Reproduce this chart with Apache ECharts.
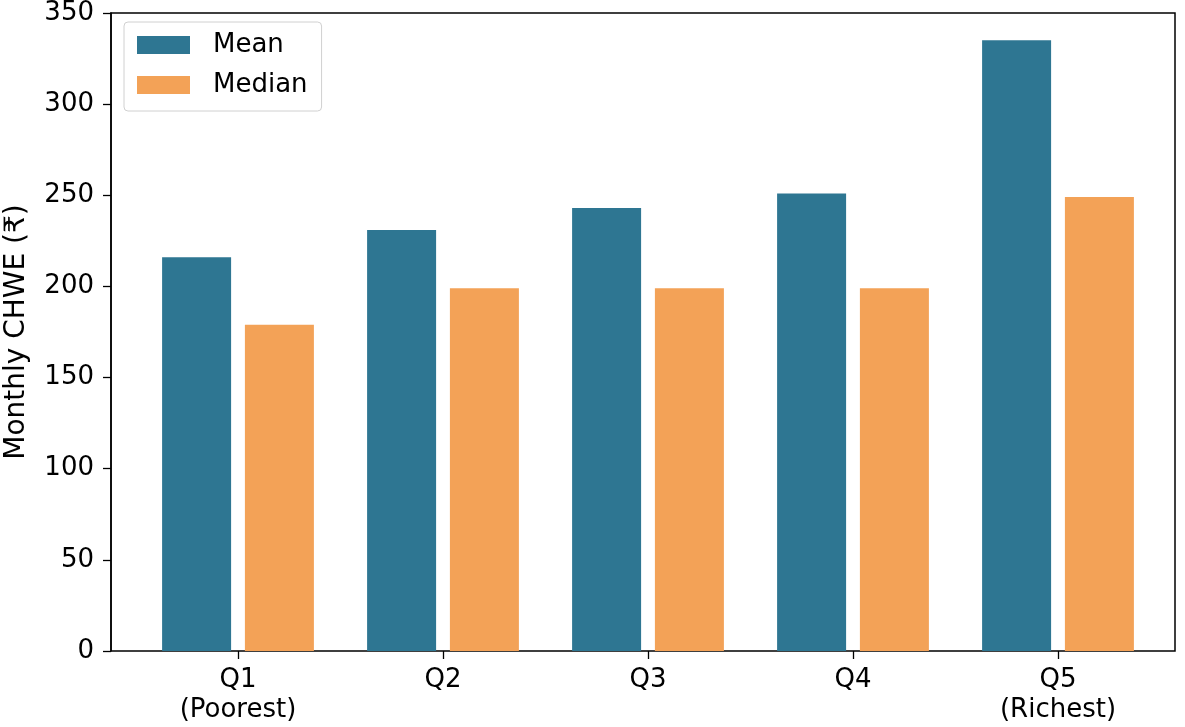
<!DOCTYPE html>
<html>
<head>
<meta charset="utf-8">
<script src="https://cdn.jsdelivr.net/npm/echarts@6/dist/echarts.min.js"></script>
<style>
  html, body { margin: 0; padding: 0; background: #fff; }
  #container { width: 1185px; height: 727px; }
</style>
</head>
<body>
<div id="container"></div>
<script>
var quintiles = ["Q1\n(Poorest)", "Q2", "Q3", "Q4", "Q5\n(Richest)"];
var meanValues = [216, 231, 243, 251, 335];
var medianValues = [179, 199, 199, 199, 249];
var yTicks = { min: 0, max: 350, step: 50 };

var dom = document.getElementById("container");
var chart = echarts.init(dom);

var font = "DejaVu Sans";

var option = {
    animation: false,
    textStyle: { fontFamily: font },
    grid: [
        // bars
        { left: 135.5, right: 24.5, top: 13, bottom: 76, outerBoundsMode: "none", containLabel: false },
        // frame + y axis
        { left: 111, right: 10, top: 13, bottom: 76, outerBoundsMode: "none", containLabel: false,
          show: true, borderColor: "#000", borderWidth: 1.5, backgroundColor: "transparent" }
    ],
    legend: {
        orient: "vertical",
        left: 124,
        top: 22,
        padding: [10, 14, 13, 13],
        itemWidth: 53,
        itemHeight: 18,
        itemGap: 14,
        icon: "rect",
        borderColor: "#d0d0d0",
        borderWidth: 1,
        borderRadius: 4,
        backgroundColor: "#fff",
        textStyle: { fontSize: 26, lineHeight: 26, color: "#000", fontFamily: font, padding: [0, 0, 0, 18] },
        data: ["Mean", "Median"]
    },
    xAxis: [
        {
            type: "category",
            gridIndex: 0,
            data: quintiles,
            axisLine: { show: false },
            axisTick: { show: true, alignWithLabel: true, length: 8, lineStyle: { color: "#000", width: 1.3 } },
            axisLabel: { fontSize: 26, color: "#000", margin: 14, lineHeight: 30, fontFamily: font }
        },
        {
            type: "value",
            gridIndex: 1,
            min: 0,
            max: 1,
            show: false
        }
    ],
    yAxis: [
        {
            type: "value",
            gridIndex: 0,
            min: yTicks.min,
            max: yTicks.max,
            show: false
        },
        {
            type: "value",
            gridIndex: 1,
            min: yTicks.min,
            max: yTicks.max,
            interval: yTicks.step,
            name: "Monthly CHWE (₹)",
            nameLocation: "middle",
            nameGap: 80,
            nameTextStyle: { fontSize: 28, color: "#000", fontFamily: font },
            axisLine: { show: true, lineStyle: { color: "#000", width: 1.5 } },
            axisTick: { show: true, length: 8, lineStyle: { color: "#000", width: 1.3 } },
            axisLabel: { fontSize: 26, color: "#000", margin: 17, fontFamily: font },
            splitLine: { show: false }
        }
    ],
    series: [
        {
            name: "Mean",
            type: "bar",
            xAxisIndex: 0,
            yAxisIndex: 0,
            data: meanValues,
            barWidth: 69,
            barGap: "20%",
            itemStyle: { color: "#2e7692" }
        },
        {
            name: "Median",
            type: "bar",
            xAxisIndex: 0,
            yAxisIndex: 0,
            data: medianValues,
            barWidth: 69,
            barGap: "20%",
            itemStyle: { color: "#f3a257" }
        }
    ]
};

chart.setOption(option);
</script>
</body>
</html>
